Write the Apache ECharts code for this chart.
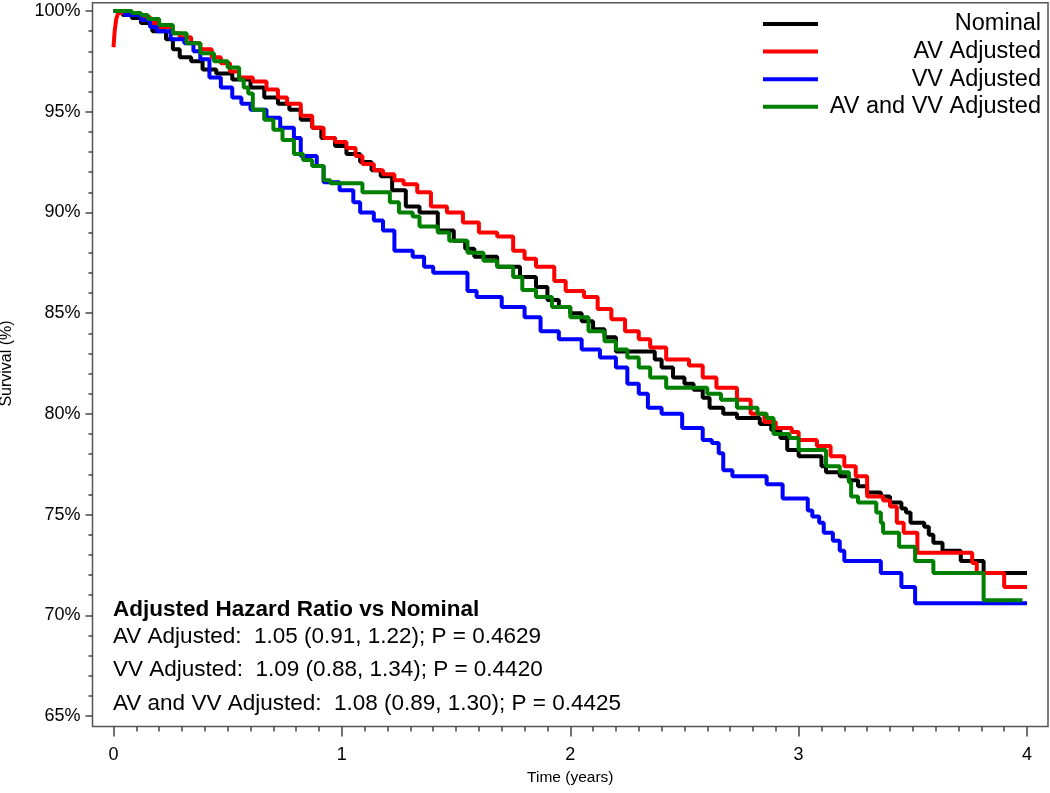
<!DOCTYPE html>
<html>
<head>
<meta charset="utf-8">
<script src="https://cdn.jsdelivr.net/npm/echarts@6/dist/echarts.min.js"></script>
<style>
  html, body { margin: 0; padding: 0; background: #fff; }
  #chart { width: 1050px; height: 793px; }
</style>
</head>
<body>
<div id="chart"></div>
<script>
const FONT = 'Liberation Sans, Arial, sans-serif';

const seriesNames = ['Nominal', 'AV Adjusted', 'VV Adjusted', 'AV and VV Adjusted'];
const seriesColors = ['#000000', '#ff0000', '#0000ff', '#008000'];

const nominalT = [0, 0.04, 0.08, 0.12, 0.17, 0.23, 0.26, 0.29, 0.34, 0.39, 0.45, 0.52, 0.60, 0.66, 0.72, 0.77, 0.82, 0.87, 0.91, 0.97, 1.02, 1.08, 1.13, 1.17, 1.22, 1.28, 1.34, 1.42, 1.49, 1.54, 1.58, 1.68, 1.78, 1.85, 1.90, 1.95, 2.00, 2.05, 2.10, 2.15, 2.20, 2.37, 2.40, 2.45, 2.50, 2.54, 2.58, 2.61, 2.67, 2.73, 2.83, 2.88, 2.92, 2.95, 3.00, 3.10, 3.12, 3.18, 3.22, 3.26, 3.30, 3.36, 3.40, 3.45, 3.47, 3.49, 3.55, 3.57, 3.59, 3.63, 3.71, 3.81, 4.00];
const nominalS = [100, 99.8, 99.65, 99.4, 99.0, 98.6, 98.1, 97.7, 97.5, 97.1, 96.9, 96.6, 96.2, 95.7, 95.4, 95.1, 94.6, 94.2, 93.7, 93.3, 92.9, 92.5, 92.1, 91.8, 91.1, 90.3, 90.0, 89.1, 88.6, 88.2, 87.8, 87.3, 86.8, 86.3, 85.65, 85.3, 85.0, 84.6, 84.2, 83.8, 83.1, 82.7, 82.3, 81.8, 81.5, 81.2, 80.8, 80.3, 80.0, 79.8, 79.5, 79.2, 78.8, 78.2, 77.9, 77.4, 77.1, 76.9, 76.7, 76.4, 76.1, 75.9, 75.6, 75.3, 75.1, 74.6, 74.4, 74.0, 73.6, 73.2, 72.7, 72.1, 72.1];

const avT = [0, 0.005, 0.012, 0.02, 0.08, 0.12, 0.16, 0.20, 0.25, 0.29, 0.34, 0.38, 0.43, 0.47, 0.51, 0.55, 0.61, 0.67, 0.72, 0.76, 0.82, 0.87, 0.92, 0.97, 1.02, 1.06, 1.09, 1.14, 1.18, 1.23, 1.27, 1.33, 1.39, 1.46, 1.53, 1.60, 1.68, 1.75, 1.80, 1.85, 1.93, 1.98, 2.06, 2.12, 2.18, 2.24, 2.30, 2.35, 2.42, 2.52, 2.58, 2.64, 2.73, 2.79, 2.85, 2.90, 2.97, 3.00, 3.08, 3.14, 3.20, 3.25, 3.30, 3.37, 3.40, 3.43, 3.46, 3.52, 3.76, 3.78, 3.90, 4.00];
const avS = [98.2, 99.0, 99.6, 99.9, 99.8, 99.7, 99.4, 99.2, 98.9, 98.7, 98.4, 98.1, 97.7, 97.4, 97.0, 96.7, 96.5, 96.1, 95.7, 95.4, 94.8, 94.2, 93.7, 93.5, 93.2, 92.8, 92.4, 92.1, 91.9, 91.6, 91.4, 91.0, 90.3, 90.0, 89.5, 89.0, 88.8, 88.1, 87.7, 87.3, 86.6, 86.1, 85.8, 85.2, 84.7, 84.1, 83.7, 83.3, 82.7, 82.4, 81.8, 81.3, 80.7, 80.0, 79.6, 79.3, 79.1, 78.7, 78.4, 77.9, 77.4, 76.9, 75.9, 75.7, 75.4, 74.6, 74.1, 73.1, 72.6, 72.1, 71.4, 71.4];

const vvT = [0, 0.05, 0.12, 0.16, 0.19, 0.25, 0.31, 0.35, 0.38, 0.42, 0.47, 0.52, 0.56, 0.60, 0.67, 0.73, 0.79, 0.82, 0.89, 0.92, 0.99, 1.05, 1.08, 1.14, 1.18, 1.23, 1.31, 1.36, 1.40, 1.55, 1.59, 1.70, 1.80, 1.87, 1.95, 2.05, 2.13, 2.20, 2.25, 2.30, 2.34, 2.40, 2.49, 2.58, 2.62, 2.65, 2.67, 2.71, 2.86, 2.93, 3.04, 3.06, 3.09, 3.11, 3.15, 3.18, 3.20, 3.36, 3.45, 3.51, 4.00];
const vvS = [100, 99.8, 99.55, 99.2, 99.0, 98.6, 98.4, 98.0, 97.6, 96.7, 96.2, 95.7, 95.4, 95.1, 94.7, 94.2, 93.7, 92.8, 92.3, 91.5, 91.1, 90.5, 90.0, 89.6, 89.1, 88.1, 87.8, 87.3, 87.0, 86.1, 85.8, 85.3, 84.8, 84.1, 83.7, 83.2, 82.8, 82.3, 81.5, 81.0, 80.3, 80.0, 79.3, 78.7, 78.55, 78.05, 77.2, 76.9, 76.5, 75.8, 75.2, 74.9, 74.6, 74.1, 73.7, 73.2, 72.7, 72.1, 71.4, 70.6, 70.6];

const bothT = [0, 0.08, 0.12, 0.15, 0.20, 0.26, 0.32, 0.38, 0.44, 0.50, 0.55, 0.57, 0.59, 0.61, 0.66, 0.70, 0.74, 0.79, 0.83, 0.87, 0.92, 0.95, 1.09, 1.21, 1.25, 1.31, 1.34, 1.42, 1.47, 1.55, 1.62, 1.68, 1.75, 1.79, 1.85, 1.92, 2.00, 2.08, 2.15, 2.20, 2.25, 2.30, 2.35, 2.42, 2.60, 2.66, 2.73, 2.82, 2.86, 2.89, 2.96, 3.00, 3.12, 3.18, 3.22, 3.23, 3.26, 3.34, 3.36, 3.37, 3.44, 3.51, 3.59, 3.81, 3.98];
const bothS = [100, 99.9, 99.8, 99.6, 99.3, 98.9, 98.4, 97.9, 97.5, 97.2, 96.6, 96.2, 95.9, 95.1, 94.6, 94.1, 93.6, 92.9, 92.6, 92.3, 91.6, 91.45, 91.0, 90.5, 90.0, 89.8, 89.3, 89.0, 88.6, 88.0, 87.6, 87.3, 86.8, 86.15, 85.8, 85.3, 84.8, 84.1, 83.6, 83.2, 82.8, 82.3, 81.8, 81.3, 81.0, 80.7, 80.3, 80.0, 79.8, 79.0, 78.8, 78.2, 77.4, 77.1, 76.6, 75.9, 75.6, 75.1, 74.6, 74.1, 73.4, 72.7, 72.1, 70.75, 70.75];

const hazardTitle = 'Adjusted Hazard Ratio vs Nominal';
const hazardLines = [
  'AV Adjusted:  1.05 (0.91, 1.22); P = 0.4629',
  'VV Adjusted:  1.09 (0.88, 1.34); P = 0.4420',
  'AV and VV Adjusted:  1.08 (0.89, 1.30); P = 0.4425'
];

const pairs = (t, s) => t.map((v, i) => [v, s[i]]);
const curves = [pairs(nominalT, nominalS), pairs(avT, avS), pairs(vvT, vvS), pairs(bothT, bothS)];

const chart = echarts.init(document.getElementById('chart'));
chart.setOption({
  animation: false,
  textStyle: { fontFamily: FONT },
  grid: [
    // outer frame
    { left: 92.5, right: 2, top: 2.7, bottom: 66.5, show: true, borderColor: '#555', borderWidth: 1.5, backgroundColor: '#fff', outerBoundsMode: 'none', containLabel: false },
    // data area (0..4 years, 65..100%)
    { left: 113.5, right: 23, top: 11, bottom: 77, outerBoundsMode: 'none', containLabel: false }
  ],
  xAxis: [
    { gridIndex: 0, type: 'value', show: false, min: 0, max: 1 },
    {
      gridIndex: 1, type: 'value', min: 0, max: 4, interval: 1, offset: 10.5,
      name: 'Time (years)', nameLocation: 'middle', nameGap: 41,
      nameTextStyle: { fontSize: 15.5, color: '#000', fontFamily: FONT },
      axisLine: { show: false, onZero: false },
      axisTick: { show: true, length: 10, lineStyle: { color: '#444', width: 1.5 } },
      minorTick: { show: true, splitNumber: 10, length: 5, lineStyle: { color: '#444', width: 1.5 } },
      axisLabel: { fontSize: 18, color: '#000', margin: 20, fontFamily: FONT },
      splitLine: { show: false }
    }
  ],
  yAxis: [
    { gridIndex: 0, type: 'value', show: false, min: 0, max: 1 },
    {
      gridIndex: 1, type: 'value', min: 65, max: 100, interval: 5, offset: 21,
      name: 'Survival (%)', nameLocation: 'middle', nameGap: 78,
      nameTextStyle: { fontSize: 16, color: '#000', fontFamily: FONT },
      axisLine: { show: false, onZero: false },
      axisTick: { show: true, length: 7, lineStyle: { color: '#444', width: 1.5 } },
      minorTick: { show: true, splitNumber: 5, length: 4, lineStyle: { color: '#444', width: 1.5 } },
      axisLabel: { fontSize: 18, color: '#000', margin: 12, formatter: '{value}%', fontFamily: FONT },
      splitLine: { show: false }
    }
  ],
  legend: {
    orient: 'vertical', left: 758, top: 7,
    itemWidth: 55, itemHeight: 4, itemGap: 3.6, icon: 'rect',
    data: seriesNames,
    formatter: name => '{t|' + name + '}',
    textStyle: {
      fontSize: 23.5, color: '#000', fontFamily: FONT,
      rich: { t: { width: 218, align: 'right', fontSize: 23.5, lineHeight: 22, fontFamily: FONT } }
    }
  },
  graphic: [
    { type: 'text', left: 113, top: 598, style: { text: hazardTitle, font: 'bold 22.5px ' + FONT, fill: '#000' } },
    ...hazardLines.map((line, i) => ({
      type: 'text', left: 113, top: 625 + i * 33.5,
      style: { text: line, font: '22.5px ' + FONT, fill: '#000' }
    }))
  ],
  series: curves.map((data, i) => ({
    name: seriesNames[i],
    type: 'line',
    xAxisIndex: 1,
    yAxisIndex: 1,
    step: 'end',
    showSymbol: false,
    clip: false,
    data: data,
    color: seriesColors[i],
    lineStyle: { width: 4, color: seriesColors[i] }
  }))
});
</script>
</body>
</html>
